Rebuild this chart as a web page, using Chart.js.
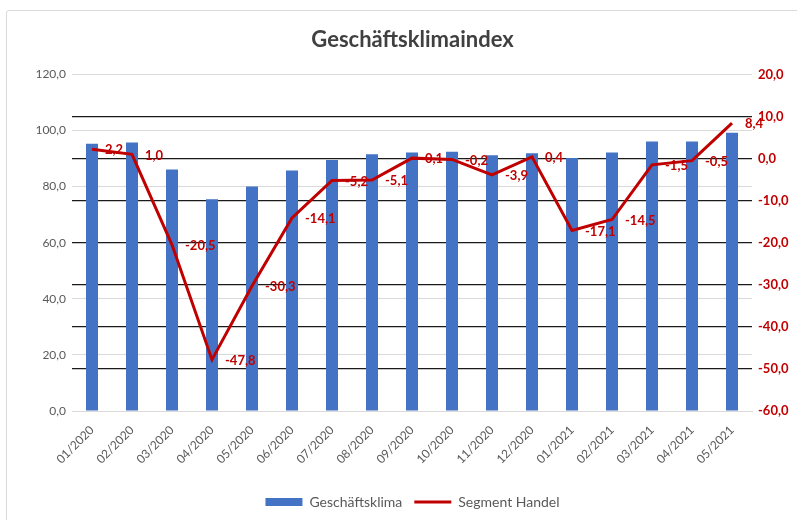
<!DOCTYPE html>
<html>
<head>
<meta charset="utf-8">
<script src="https://cdn.jsdelivr.net/npm/chart.js@4"></script>
<style>
  body { margin: 0; background: #fff; }
  #wrap { position: relative; width: 797px; height: 520px; }
  #frame { position: absolute; left: 6px; top: 10px; width: 800px; height: 520px;
           border: 1px solid #d9d9d9; border-radius: 3px; pointer-events: none; }
</style>
</head>
<body>
<div id="wrap">
  <canvas id="chart" width="797" height="520"></canvas>
  <div id="frame"></div>
</div>
<script>
// Data
const months = ["01/2020", "02/2020", "03/2020", "04/2020", "05/2020", "06/2020", "07/2020", "08/2020",
  "09/2020", "10/2020", "11/2020", "12/2020", "01/2021", "02/2021", "03/2021", "04/2021", "05/2021"];
const klima = [95.3, 95.7, 86.1, 75.5, 80.0, 85.7, 89.5, 91.5, 92.2, 92.4, 91.2, 91.9, 90.2, 92.2, 96.1, 96.1, 99.2];
const handel = [2.2, 1.0, -20.5, -47.8, -30.3, -14.1, -5.2, -5.1, 0.1, -0.2, -3.9, 0.4, -17.1, -14.5, -1.5, -0.5, 8.4];

const FONT = "Lato, 'Open Sans', sans-serif";
const GRAY = "#595959";
const RED = "#C00000";

function fmt(v) {
    return v.toFixed(1).replace(".", ",");
}

// Labels next to the red line points
const lineLabels = {
    id: "lineLabels",
    afterDatasetsDraw(chart) {
        const meta = chart.getDatasetMeta(1);
        const ctx = chart.ctx;
        ctx.save();
        ctx.font = "bold 13px " + FONT;
        ctx.fillStyle = RED;
        ctx.textAlign = "left";
        ctx.textBaseline = "middle";
        meta.data.forEach((pt, i) => {
            ctx.fillText(fmt(handel[i]), pt.x + 13, pt.y + 1);
        });
        ctx.restore();
    }
};

const ctx = document.getElementById("chart").getContext("2d");
new Chart(ctx, {
    data: {
        labels: months,
        datasets: [
            {
                type: "bar",
                label: "Geschäftsklima",
                data: klima,
                backgroundColor: "#4472C4",
                barPercentage: 0.3,
                categoryPercentage: 1,
                pointStyle: "rect",
                yAxisID: "y",
                order: 2,
            },
            {
                type: "line",
                label: "Segment Handel",
                data: handel,
                borderColor: RED,
                backgroundColor: RED,
                borderWidth: 3,
                pointRadius: 0,
                pointStyle: "line",
                tension: 0,
                yAxisID: "y1",
                order: 1,
            },
        ],
    },
    options: {
        responsive: false,
        animation: false,
        layout: { padding: { left: 28, right: 0, top: 0, bottom: 1 } },
        plugins: {
            title: {
                display: true,
                text: "Geschäftsklimaindex",
                color: "#404040",
                font: { family: FONT, size: 22, weight: "bold", lineHeight: 1.2 },
                padding: { top: 27, bottom: 21 },
            },
            legend: {
                position: "bottom",
                labels: {
                    usePointStyle: true,
                    pointStyleWidth: 37,
                    boxHeight: 8,
                    padding: 12,
                    color: GRAY,
                    font: { family: FONT, size: 14 },
                    sort: (a, b) => a.datasetIndex - b.datasetIndex,
                },
            },
            tooltip: { enabled: false },
        },
        scales: {
            x: {
                offset: true,
                grid: { display: false },
                border: { color: "#d9d9d9" },
                ticks: {
                    color: GRAY,
                    font: { family: FONT, size: 12 },
                    minRotation: 45,
                    maxRotation: 45,
                    autoSkip: false,
                    padding: 4,
                },
                afterFit(scale) { scale.height = 72; },
            },
            y: {
                position: "left",
                min: 0,
                max: 120,
                ticks: {
                    stepSize: 20,
                    color: GRAY,
                    font: { family: FONT, size: 12 },
                    padding: 6,
                    callback: (v) => fmt(v),
                },
                grid: { color: "#d9d9d9", drawTicks: false },
                border: { display: false },
                afterFit(scale) { scale.width = 44; },
            },
            y1: {
                position: "right",
                min: -60,
                max: 20,
                ticks: {
                    stepSize: 10,
                    color: RED,
                    font: { family: FONT, size: 13, weight: "bold" },
                    padding: 6,
                    callback: (v) => fmt(v),
                },
                grid: {
                    drawTicks: false,
                    lineWidth: 1.3,
                    color: (c) => (c.tick && (c.tick.value === 20 || c.tick.value === -60)) ? "rgba(0,0,0,0)" : "#1a1a1a",
                },
                border: { display: false },
                afterFit(scale) { scale.width = 45; },
            },
        },
    },
    plugins: [lineLabels],
});
</script>
</body>
</html>
